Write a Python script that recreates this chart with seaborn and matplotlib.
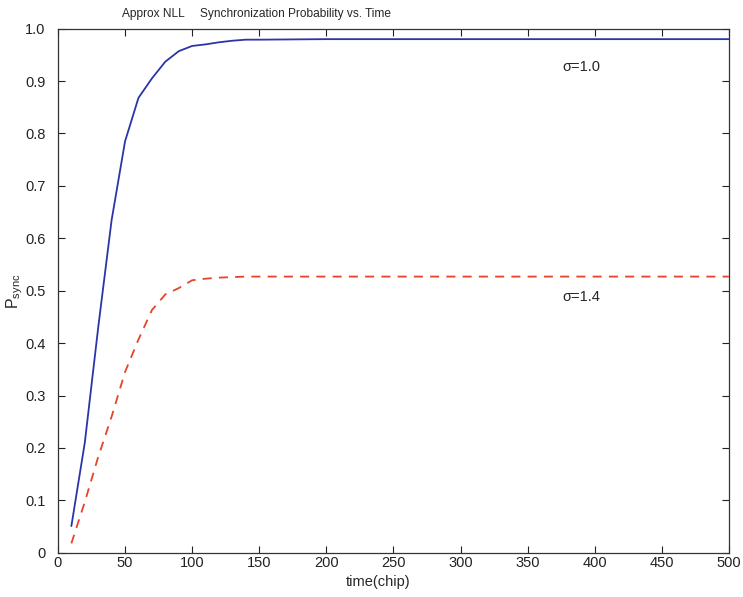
import numpy as np
import pandas as pd
import matplotlib
matplotlib.use("Agg")
import matplotlib.pyplot as plt
import seaborn as sns

# ── Data ──────────────────────────────────────────────────────────────────────
time_chip = [10, 20, 30, 40, 50, 60, 70, 80, 90, 100, 110, 120, 130, 140, 150,
             200, 250, 300, 350, 400, 450, 500]
p_sigma_10 = [0.051, 0.21, 0.43, 0.635, 0.785, 0.868, 0.905, 0.937, 0.957, 0.967,
              0.970, 0.974, 0.977, 0.979, 0.979, 0.980, 0.980, 0.980, 0.980,
              0.980, 0.980, 0.980]
p_sigma_14 = [0.018, 0.097, 0.183, 0.26, 0.345, 0.407, 0.463, 0.493, 0.505, 0.520,
              0.523, 0.525, 0.526, 0.527, 0.527, 0.527, 0.527, 0.527, 0.527,
              0.527, 0.527, 0.527]
series_names = ["σ=1.0", "σ=1.4"]

df = pd.DataFrame({
    "time": time_chip * 2,
    "p": p_sigma_10 + p_sigma_14,
    "sigma": [series_names[0]] * len(time_chip) + [series_names[1]] * len(time_chip),
})

# ── Style ─────────────────────────────────────────────────────────────────────
sns.set_style("ticks")
plt.rcParams["font.family"] = ["Liberation Sans", "DejaVu Sans"]
plt.rcParams["mathtext.fontset"] = "custom"
plt.rcParams["mathtext.rm"] = "Liberation Sans"
plt.rcParams["mathtext.it"] = "Liberation Sans"

fig = plt.figure(figsize=(7.43, 5.97), dpi=100)
ax = fig.add_axes([0.078, 0.074, 0.903, 0.878])

sns.lineplot(data=df, x="time", y="p", hue="sigma", style="sigma",
             palette={series_names[0]: "#2b35a8", series_names[1]: "#e2452a"},
             dashes={series_names[0]: "", series_names[1]: (5, 4)},
             linewidth=1.3, legend=False, ax=ax)

ax.set_xlim(0, 500)
ax.set_ylim(0, 1.0)
ax.set_xticks(np.arange(0, 501, 50))
ax.set_yticks(np.arange(0, 1.01, 0.1))
ax.set_yticklabels(["0"] + [f"{v:.1f}" for v in np.arange(0.1, 1.01, 0.1)])
ax.tick_params(direction="in", top=True, right=True, length=5, width=0.8,
               labelsize=10.5, colors="#222222")
ax.tick_params(axis="y", pad=9)
ax.tick_params(axis="x", pad=2)
for s in ax.spines.values():
    s.set_linewidth(0.9)
    s.set_color("#333333")

ax.set_xlabel("time(chip)", fontsize=10.5)
ax.xaxis.set_label_coords(0.477, -0.042)
ax.set_ylabel(r"$\mathrm{P}_{\mathrm{sync}}$", fontsize=11.5)
ax.yaxis.set_label_coords(-0.049, 0.50)

ax.text(390, 0.927, series_names[0], fontsize=10.5, ha="center", va="center")
ax.text(390, 0.489, series_names[1], fontsize=10.5, ha="center", va="center")

fig.text(0.164, 0.977, "Approx NLL", fontsize=8.6, va="center")
fig.text(0.269, 0.977, "Synchronization Probability vs. Time", fontsize=8.6,
         va="center")

fig.savefig("out.png", dpi=100)
